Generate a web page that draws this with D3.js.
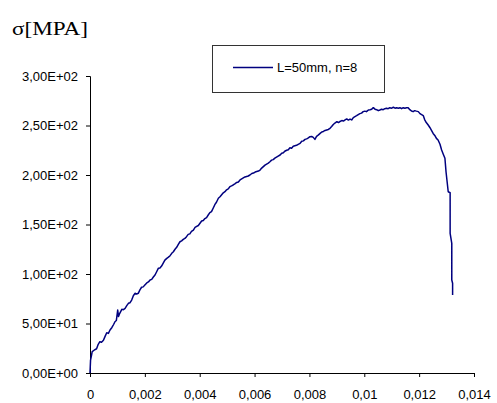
<!DOCTYPE html>
<html><head><meta charset="utf-8">
<script src="https://cdn.jsdelivr.net/npm/d3@7"></script>
<style>body{margin:0;background:#fff}svg{display:block}</style>
</head><body>
<svg id="c" width="497" height="403"></svg>
<script>
const strain = [0,0.00002,0.00005,0.00008,0.00015,0.00024,0.0003,0.00036,0.00042,0.00049,0.00055,0.00061,0.00067,0.00073,0.0008,0.00086,0.00091,0.00096,0.00101,0.00104,0.00108,0.00116,0.00122,0.00128,0.00134,0.0014,0.00146,0.00152,0.00158,0.00164,0.0017,0.00176,0.00182,0.00188,0.00194,0.002,0.00207,0.00213,0.00219,0.00225,0.00231,0.00237,0.00243,0.00249,0.00255,0.00261,0.00267,0.00273,0.0028,0.00286,0.00292,0.00298,0.00304,0.0031,0.00316,0.00322,0.00328,0.00334,0.0034,0.00346,0.00352,0.00358,0.00364,0.0037,0.00377,0.00383,0.00389,0.00395,0.00401,0.00407,0.00413,0.00419,0.00425,0.00431,0.00437,0.00443,0.00449,0.00455,0.00461,0.00468,0.00474,0.0048,0.00486,0.00492,0.00498,0.00504,0.0051,0.00516,0.00522,0.00528,0.00535,0.00541,0.00547,0.00553,0.00559,0.00565,0.00571,0.00577,0.00583,0.0059,0.00596,0.00602,0.00608,0.00614,0.0062,0.00626,0.00632,0.00638,0.00644,0.0065,0.00656,0.00662,0.00668,0.00674,0.0068,0.00686,0.00693,0.00699,0.00705,0.0071,0.00717,0.00723,0.00729,0.00735,0.00741,0.00747,0.00753,0.00759,0.00766,0.00772,0.00778,0.00784,0.0079,0.00796,0.00802,0.00808,0.00814,0.0082,0.00826,0.00833,0.00839,0.00845,0.00851,0.00857,0.00863,0.00869,0.00875,0.00881,0.00887,0.00893,0.009,0.00906,0.00911,0.00918,0.00924,0.0093,0.00936,0.00942,0.00948,0.00954,0.0096,0.00966,0.00972,0.00978,0.00984,0.0099,0.00996,0.01002,0.01008,0.01015,0.01021,0.01027,0.01033,0.01039,0.01045,0.01051,0.01057,0.01063,0.01069,0.01075,0.01081,0.01087,0.01093,0.011,0.01106,0.01112,0.01118,0.01124,0.0113,0.01136,0.01142,0.01148,0.01154,0.0116,0.01166,0.01172,0.01178,0.01184,0.0119,0.01197,0.01203,0.01209,0.01215,0.0122,0.01226,0.01233,0.01239,0.01245,0.01251,0.01257,0.01263,0.01269,0.01276,0.01282,0.01288,0.01294,0.01298,0.01302,0.01306,0.01313,0.01313,0.01319,0.01319,0.01322,0.01322];
const stress = [0,13,17,21.5,23,24.5,29,31.6,31,33,37,40.7,40,43.4,46,49,51.8,53,63.6,57,60,64.3,64,65.3,68,70.4,71,73.7,78,80.5,79.8,80.5,84,86.6,87,88.9,91,92,94,94.6,97,99,102.3,105.7,106,108,111,114,115.8,117,118.5,120.9,122.5,125,127,130,132.6,133.5,135,136,137.7,140,140.5,143,144.4,147,148,149,151.2,153.5,154,156,157,159.6,162,163,166.4,170,172.5,176.5,178,180,182,183.1,185,186,188.2,189,189.9,191,192.5,193,195,196,197,198,198.5,199,200,201.5,202,203,203.5,204,205,207,208.5,210,211,212,213.4,215,215.5,217,218,219,220.2,222,222.5,224,225,225.5,227.5,227,229,229.5,230,231,232,234,234.5,236,236.5,237.5,238.7,239,238,236,239,240.5,242,243.5,244,245,245.5,246,247.2,249,251,252.5,253.8,253,254,255,254.5,255.6,256.6,255.5,256.5,255.6,258,259,259.9,261,262,262.5,264,264.5,264,265.7,266,266.5,268,266.5,266,265,265.7,266.5,266,267,267.4,267,268,267.5,268.4,267.5,268,267.5,268,267,268,267.5,268,268,266,264.6,264,265,264.5,264,262,261,260,256,253,250.5,248,245,242,240,237,235.3,231,225.3,221,216.9,203.3,193.2,183.1,182.1,141.1,131,93.9,90.6,78.8];
const xTicks = [0,0.002,0.004,0.006,0.008,0.01,0.012,0.014];
const xTickLabels = ["0","0,002","0,004","0,006","0,008","0,01","0,012","0,014"];
const yTicks = [0,50,100,150,200,250,300];
const yTickLabels = ["0,00E+00","5,00E+01","1,00E+02","1,50E+02","2,00E+02","2,50E+02","3,00E+02"];
const seriesName = "L=50mm, n=8";
const yTitle = "σ[MPA]";

const svg = d3.select("#c");
const x = d3.scaleLinear().domain([0,0.014]).range([90,474]);
const y = d3.scaleLinear().domain([0,300]).range([373,76]);

const xAxis = svg.append("g").attr("transform","translate(0,373)")
  .call(d3.axisBottom(x).tickValues(xTicks).tickFormat((d,i)=>xTickLabels[i]).tickSizeOuter(0).tickSize(4).tickPadding(13));
const yAxis = svg.append("g").attr("transform","translate(90,0)")
  .call(d3.axisLeft(y).tickValues(yTicks).tickFormat((d,i)=>yTickLabels[i]).tickSizeOuter(0).tickSize(4).tickPadding(8));
[xAxis,yAxis].forEach(a=>{
  a.selectAll("path,line").attr("stroke","#000");
  a.selectAll("text").attr("font-family","Liberation Sans, Arial, sans-serif").attr("font-size","13px").attr("fill","#000");
});

svg.append("path")
  .datum(strain.map((d,i)=>[d,stress[i]]))
  .attr("fill","none").attr("stroke","#00007f").attr("stroke-width",1.5).attr("stroke-linejoin","round")
  .attr("d", d3.line().x(d=>x(d[0])).y(d=>y(d[1])));

svg.append("text").attr("x",12).attr("y",35)
  .attr("font-family","Liberation Serif, Times New Roman, serif").attr("font-size","19px").attr("fill","#000")
  .attr("textLength",76).attr("lengthAdjust","spacingAndGlyphs")
  .text(yTitle);

const lg = svg.append("g");
lg.append("rect").attr("x",212.5).attr("y",45.5).attr("width",172).attr("height",47)
  .attr("fill","#fff").attr("stroke","#333").attr("stroke-width",1);
lg.append("line").attr("x1",233).attr("x2",273).attr("y1",67.5).attr("y2",67.5)
  .attr("stroke","#00007f").attr("stroke-width",1.5);
lg.append("text").attr("x",277).attr("y",72)
  .attr("font-family","Liberation Sans, Arial, sans-serif").attr("font-size","13px").attr("fill","#000")
  .text(seriesName);
</script>
</body></html>
